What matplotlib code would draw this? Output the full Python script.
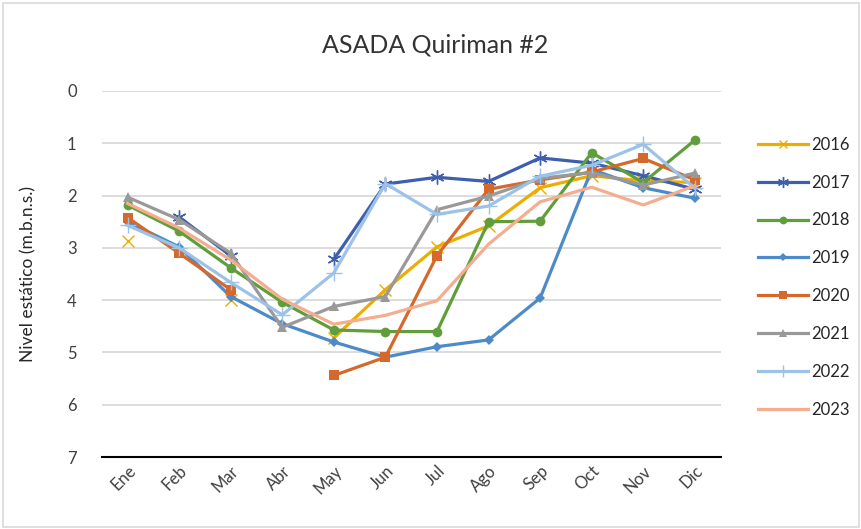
import numpy as np
import matplotlib
matplotlib.use("Agg")
import matplotlib.pyplot as plt
from matplotlib.patches import Rectangle

nan = np.nan
months = ["Ene", "Feb", "Mar", "Abr", "May", "Jun", "Jul", "Ago", "Sep", "Oct", "Nov", "Dic"]

y2016 = [2.87, nan, 3.99, nan, 4.72, 3.80, 2.98, 2.58, 1.85, 1.62, 1.72, 1.75]
y2017 = [nan, 2.41, 3.15, nan, 3.22, 1.78, 1.65, 1.73, 1.28, 1.38, 1.62, 1.88]
y2018 = [2.18, 2.68, 3.38, 4.04, 4.57, 4.60, 4.60, 2.50, 2.49, 1.18, 1.75, 0.94]
y2019 = [2.50, 2.98, 3.93, 4.45, 4.80, 5.09, 4.89, 4.76, 3.96, 1.50, 1.85, 2.05]
y2020 = [2.42, 3.10, 3.80, nan, 5.44, 5.09, 3.15, 1.88, 1.70, 1.55, 1.29, 1.70]
y2021 = [2.03, 2.46, 3.10, 4.52, 4.12, 3.93, 2.27, 2.01, 1.67, 1.56, 1.80, 1.57]
y2022 = [2.57, 3.00, 3.66, 4.28, 3.48, 1.77, 2.36, 2.20, 1.63, 1.42, 1.02, 1.86]
y2023 = [2.15, 2.62, 3.23, 3.98, 4.46, 4.29, 4.01, 2.93, 2.12, 1.84, 2.18, 1.81]

series = [
    ("2016", y2016, "#EBAE00", "x", 8),
    ("2017", y2017, "#3D5FAE", (6, 2, 0), 10),
    ("2018", y2018, "#5F9E3A", "o", 7),
    ("2019", y2019, "#4C8BC7", "D", 5.5),
    ("2020", y2020, "#D5682A", "s", 7.5),
    ("2021", y2021, "#999999", "^", 7.5),
    ("2022", y2022, "#9DC2E8", "+", 11),
    ("2023", y2023, "#F4AD8E", None, 0),
]

plt.rcParams["font.family"] = ["Lato", "DejaVu Sans"]

fig = plt.figure(figsize=(8.62, 5.29), dpi=100)
ax = fig.add_axes([0.118, 0.136, 0.718, 0.692])

x = np.arange(len(months))
for name, vals, col, mk, ms in series:
    mew = 1.0 if mk in ("x", "+", (6, 2, 0)) else 0
    ax.plot(x, vals, color=col, linewidth=2.3, marker=mk, markersize=ms,
            markerfacecolor=col, markeredgecolor=col, markeredgewidth=mew,
            label=name, solid_joinstyle="round")

ax.set_xlim(-0.5, 11.5)
ax.set_ylim(7, 0)
ax.set_yticks(range(0, 8))
ax.set_xticks(x)
ax.set_xticklabels(months, rotation=45, ha="right", rotation_mode="anchor")
ax.tick_params(axis="both", length=0, labelsize=12, labelcolor="#404040")
ax.tick_params(axis="y", pad=18)
ax.tick_params(axis="x", pad=4)
ax.grid(axis="y", color="#D9D9D9", linewidth=1.3)
ax.set_axisbelow(True)
for s in ["top", "left", "right"]:
    ax.spines[s].set_visible(False)
ax.spines["bottom"].set_color("#000000")
ax.spines["bottom"].set_linewidth(1.5)
ax.set_ylabel("Nivel estático (m.b.n.s.)", fontsize=12.5, color="#262626", labelpad=22)

fig.text(0.505, 0.915, "ASADA Quiriman #2", ha="center", va="center",
         fontsize=18, color="#333333")

fig.legend(loc="upper left", bbox_to_anchor=(0.862, 0.77), frameon=False,
           fontsize=12, handlelength=3.0, handletextpad=0.2, labelspacing=1.31,
           labelcolor="#262626", markerscale=0.8)

fig.patches.append(Rectangle((0.004, 0.004), 0.992, 0.99, transform=fig.transFigure,
                             fill=False, edgecolor="#D9D9D9", linewidth=1.2))

fig.savefig("out.png", dpi=100)
